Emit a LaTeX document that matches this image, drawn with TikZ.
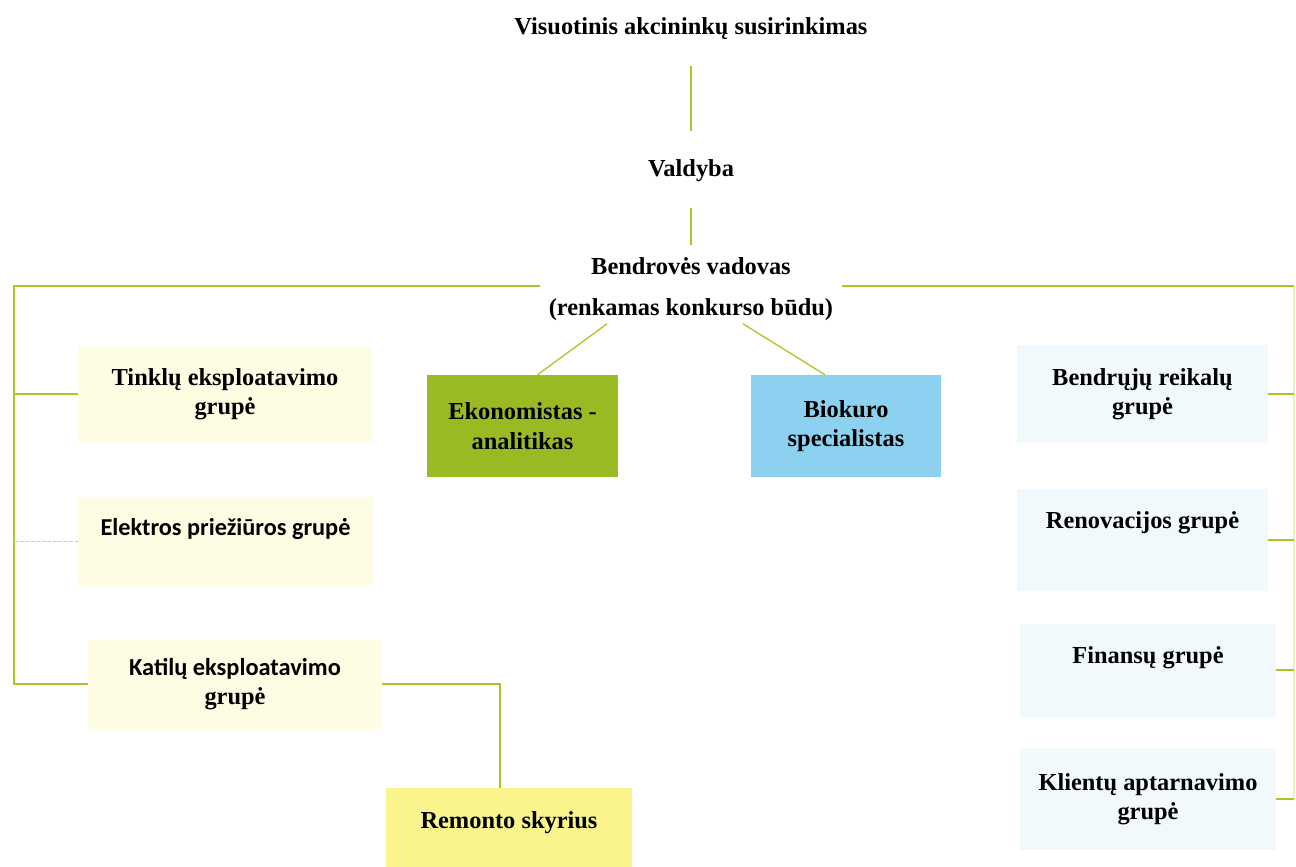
\documentclass[tikz,border=0pt]{standalone}
\usepackage{fontspec}
\setmainfont{Liberation Serif}
\newfontfamily\calib{Carlito}
\definecolor{lineG}{RGB}{172,198,40}
\definecolor{lineF}{RGB}{236,240,190}
\definecolor{lineD}{RGB}{205,222,120}
\definecolor{paleY}{RGB}{254,253,228}
\definecolor{remY}{RGB}{249,245,140}
\definecolor{ekoG}{RGB}{153,186,34}
\definecolor{bioB}{RGB}{140,210,240}
\definecolor{paleB}{RGB}{241,249,252}
\begin{document}
\begin{tikzpicture}[x=1pt,y=-1pt,
  conn/.style={draw=lineG,line width=1.6pt},
  faint/.style={draw=lineF,line width=1.4pt},
  txt/.style={inner sep=0pt,align=center,font=\fontsize{24.4}{29.5}\selectfont\bfseries},
  ctxt/.style={inner sep=0pt,align=center,font=\calib\fontsize{24.3}{29.5}\selectfont\bfseries},
  box/.style={inner sep=0pt,align=center,font=\fontsize{24.4}{29.5}\selectfont\bfseries},
  ybox/.style={box,fill=paleY},
  bbox/.style={box,fill=paleB}]
\useasboundingbox (0,0) rectangle (1296,867);
\clip (0,0) rectangle (1296,867);
\fill[white] (0,0) rectangle (1296,867);

% top chain
\node[txt] (vas) at (691,29) {Visuotinis akcininkų susirinkimas};
\node[txt] (vald) at (691,171) {Valdyba};
\node[txt,font=\fontsize{24.4}{41}\selectfont\bfseries] (boss) at (691,289) {Bendrovės vadovas\\(renkamas konkurso būdu)};
\coordinate (v1a) at (691,66);
\coordinate (v1b) at (691,131);
\coordinate (v2a) at (691,208);
\coordinate (v2b) at (691,245);
\draw[conn] (v1a) -- (v1b);
\draw[conn] (v2a) -- (v2b);

% left boxes
\node[ybox,minimum width=294pt,minimum height=95pt] (tink) at (225,394) {Tinklų eksploatavimo\\grupė};
\node[ybox,minimum width=295pt,minimum height=88pt] (elek) at (225.5,541) {};
\node[ctxt] (elekT) at ([yshift=12pt]elek.center) {Elektros priežiūros grupė};
\node[ybox,minimum width=294pt,minimum height=89pt] (katil) at (235,684) {{\calib Katilų eksploatavimo}\\grupė};
\node[box,fill=remY,minimum width=246pt,minimum height=102pt] (remont) at (509,839) {};
\node[txt] (remontT) at (509,823) {Remonto skyrius};

% middle boxes
\node[box,fill=ekoG,minimum width=191pt,minimum height=102pt] (ekon) at (522.5,426) {Ekonomistas -\\analitikas};
\node[box,fill=bioB,minimum width=190pt,minimum height=102pt] (biok) at (846,426) {Biokuro\\specialistas};

% right boxes
\node[bbox,minimum width=251pt,minimum height=98pt] (bendr) at (1142.5,394) {Bendrųjų reikalų\\grupė};
\node[bbox,minimum width=251pt,minimum height=102pt] (renov) at (1142.5,540) {};
\node[txt] (renovT) at ([yshift=17pt]renov.center) {Renovacijos grupė};
\node[bbox,minimum width=256pt,minimum height=93pt] (finans) at (1148,670) {};
\node[txt] (finansT) at ([yshift=12pt]finans.center) {Finansų grupė};
\node[bbox,minimum width=256pt,minimum height=102pt] (klient) at (1148,799) {Klientų aptarnavimo\\grupė};

% main horizontal and verticals
\coordinate (lt) at (14,286);
\coordinate (rt) at (1294,286);
\draw[faint] (rt) -- (rt |- klient.east);
\draw[conn] ([xshift=-9pt]boss.west |- lt) -- (lt) |- (katil.west);
\draw[conn] (lt |- tink.west) -- (tink.west);
\draw[draw=lineD,line width=0.9pt,dash pattern=on 4pt off 1.5pt] (lt |- elek.west) -- (elek.west);
\draw[conn] ([xshift=9pt]boss.east |- rt) -- (rt);
\draw[conn] (bendr.east) -- (rt |- bendr.east);
\draw[conn] (renov.east) -- (rt |- renov.east);
\draw[conn] (finans.east) -- (rt |- finans.east);
\draw[conn] (klient.east) -- (rt |- klient.east);

% diagonals
\draw[draw=lineG,line width=1.3pt] ([xshift=-84pt,yshift=-3pt]boss.south) -- ([xshift=15pt]ekon.north);
\draw[draw=lineG,line width=1.3pt] ([xshift=52pt,yshift=-3pt]boss.south) -- ([xshift=-21pt]biok.north);

% katilu to remonto
\draw[conn] (katil.east) -| ([xshift=-9pt]remont.north);
\end{tikzpicture}
\end{document}
